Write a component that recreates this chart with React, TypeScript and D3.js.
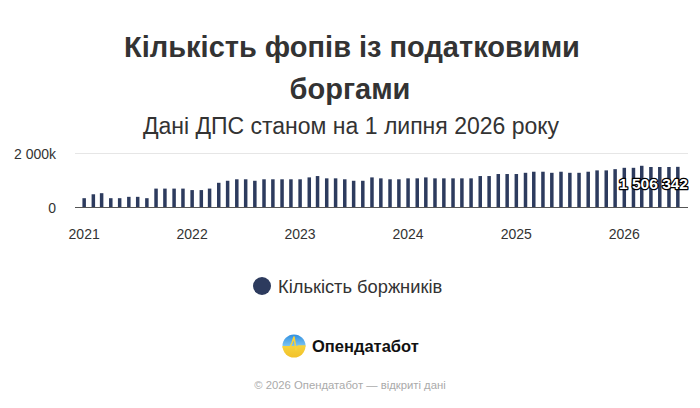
import React from "react";
import * as d3 from "d3";

const months: string[] = [
  "2021-01","2021-02","2021-03","2021-04","2021-05","2021-06","2021-07","2021-08","2021-09","2021-10","2021-11","2021-12",
  "2022-01","2022-02","2022-03","2022-04","2022-05","2022-06","2022-07","2022-08","2022-09","2022-10","2022-11","2022-12",
  "2023-01","2023-02","2023-03","2023-04","2023-05","2023-06","2023-07","2023-08","2023-09","2023-10","2023-11","2023-12",
  "2024-01","2024-02","2024-03","2024-04","2024-05","2024-06","2024-07","2024-08","2024-09","2024-10","2024-11","2024-12",
  "2025-01","2025-02","2025-03","2025-04","2025-05","2025-06","2025-07","2025-08","2025-09","2025-10","2025-11","2025-12",
  "2026-01","2026-02","2026-03","2026-04","2026-05","2026-06","2026-07",
];

// Кількість боржників, тис.
const debtors: number[] = [
  345, 490, 530, 345, 345, 395, 395, 345, 700, 700, 700, 700,
  645, 645, 700, 915, 990, 1045, 1045, 990, 1045, 1045, 1045, 1045,
  1045, 1115, 1165, 1080, 1080, 1045, 990, 990, 1115, 1080, 1045, 1045,
  1080, 1080, 1115, 1080, 1080, 1080, 1080, 1080, 1165, 1165, 1240, 1240,
  1240, 1285, 1325, 1325, 1285, 1325, 1285, 1285, 1325, 1375, 1375, 1420,
  1470, 1470, 1545, 1500, 1500, 1500, 1506.342,
];

const yearTicks: string[] = ["2021", "2022", "2023", "2024", "2025", "2026"];
const yTicks: number[] = [0, 2000];
const yTickLabels: string[] = ["0", "2 000k"];

const titleLines = ["Кількість фопів із податковими", "боргами"];
const subtitle = "Дані ДПС станом на 1 липня 2026 року";
const seriesName = "Кількість боржників";
const lastLabel = "1 506 342";
const logoText = "Опендатабот";
const footer = "© 2026 Опендатабот — відкриті дані";

const FONT = "'Liberation Sans', Arial, Helvetica, sans-serif";
const BAR = "#2d3b5e";

export default function App() {
  const parse = d3.utcParse("%Y-%m");
  const x = d3
    .scaleUtc()
    .domain([new Date(Date.UTC(2020, 11, 1)), new Date(Date.UTC(2026, 7, 1))])
    .range([75, 687]);
  const y = d3.scaleLinear().domain([0, 2000]).range([207.5, 153.5]);
  const plotL = 75;
  const plotR = 688;
  const barW = 3.5;

  const lastY = y(debtors[debtors.length - 1]);

  return (
    <svg
      width={700}
      height={408}
      style={{ position: "absolute", left: 0, top: 0, background: "#fff" }}
      fontFamily={FONT}
    >
      <defs>
        <linearGradient id="sky" x1="0" y1="0" x2="0" y2="1">
          <stop offset="0" stopColor="#2f8fe0" />
          <stop offset="0.5" stopColor="#7cc4f2" />
          <stop offset="0.5" stopColor="#f6d23c" />
          <stop offset="1" stopColor="#f2c12a" />
        </linearGradient>
      </defs>
      <text x={352} y={57} textAnchor="middle" fontSize={29} fontWeight="bold" fill="#333">
        {titleLines[0]}
      </text>
      <text x={350} y={99} textAnchor="middle" fontSize={29} fontWeight="bold" fill="#333">
        {titleLines[1]}
      </text>
      <text x={351} y={134} textAnchor="middle" fontSize={23} fill="#333">
        {subtitle}
      </text>

      {/* grid */}
      {yTicks.map((t, i) =>
        t === 0 ? null : (
          <line key={"g" + i} x1={plotL} x2={plotR} y1={y(t)} y2={y(t)} stroke="#e6e6e6" strokeWidth={1} />
        )
      )}
      {yTicks.map((t, i) => (
        <text key={"yl" + i} x={56} y={y(t) + 5} textAnchor="end" fontSize={14} fill="#333">
          {yTickLabels[i]}
        </text>
      ))}

      {/* bars */}
      {months.map((m, i) => {
        const cx = x(parse(m)!);
        const top = y(debtors[i]);
        return (
          <rect
            key={m}
            x={cx - barW / 2}
            y={top}
            width={barW}
            height={y(0) - top}
            fill={BAR}
          />
        );
      })}

      {/* x axis */}
      <line x1={plotL} x2={plotR} y1={207.5} y2={207.5} stroke="#555" strokeWidth={1} />
      {yearTicks.map((yr) => (
        <text key={yr} x={x(parse(yr + "-01")!)} y={239} textAnchor="middle" fontSize={14} fill="#333">
          {yr}
        </text>
      ))}

      {/* data label */}
      <text
        x={plotR}
        y={lastY + 22}
        textAnchor="end"
        fontSize={15.5}
        fontWeight="bold"
        fill="#fff"
        stroke="#000"
        strokeWidth={2.5}
        strokeLinejoin="round"
        paintOrder="stroke"
      >
        {lastLabel}
      </text>

      {/* legend */}
      <circle cx={262} cy={286} r={9} fill={BAR} />
      <text x={278} y={292.5} fontSize={18.3} fill="#333">
        {seriesName}
      </text>

      {/* logo */}
      <g transform="translate(294,346)">
        <circle r={11.5} fill="url(#sky)" />
        <path
          d="M-11.5,1 L-4,1 L-2,-3 L0,-9 L2,4 L4,0 L11.5,0"
          fill="none"
          stroke="#f6d23c"
          strokeWidth={1.6}
          strokeLinejoin="round"
        />
      </g>
      <text x={312} y={352} fontSize={16.5} fontWeight="bold" fill="#111">
        {logoText}
      </text>

      <text x={350} y={389} textAnchor="middle" fontSize={11.3} fill="#aaa">
        {footer}
      </text>
    </svg>
  );
}
